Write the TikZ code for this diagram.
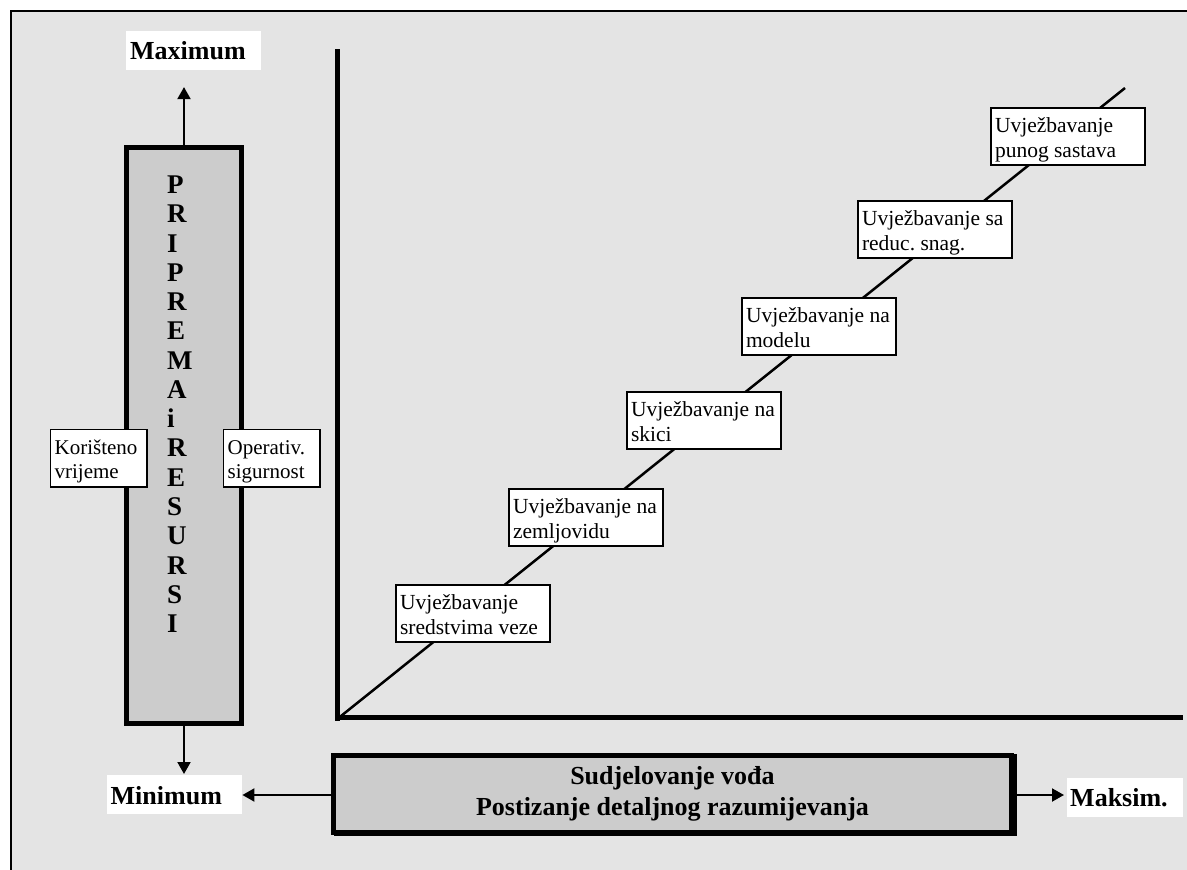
\documentclass[tikz,border=0pt]{standalone}
\usepackage{fontspec}
\setmainfont{Liberation Serif}
\usetikzlibrary{arrows.meta}

\definecolor{panelgray}{HTML}{E4E4E4}
\definecolor{boxgray}{HTML}{CCCCCC}

\begin{document}
\begin{tikzpicture}[x=1pt,y=-1pt,
  stepbox/.style={draw, line width=2pt, fill=white, anchor=north west,
    inner xsep=4pt, inner ysep=0pt, text width=146pt, align=flush left,
    text height=24pt, text depth=33pt,
    font=\fontsize{21.5}{25}\selectfont\frenchspacing},
  sidebox/.style={draw, line width=1.3pt, fill=white, anchor=north west,
    inner xsep=4.4pt, inner ysep=0pt, text width=87.9pt, align=flush left,
    text height=25.4pt, text depth=32.3pt,
    font=\fontsize{21}{24}\selectfont\frenchspacing},
  endlabel/.style={fill=white, anchor=north west, inner ysep=0pt, align=flush left,
    font=\fontsize{26}{30}\selectfont\bfseries},
  arr/.style={line width=2pt, -{Triangle[length=12pt,width=13pt]}},
  axis/.style={line width=5pt},
]
\useasboundingbox (0,0) rectangle (1187,870);

% panel
\fill[panelgray] (11,11) rectangle (1195,880);
\draw[line width=1.5pt] (11,880) -- (11,11) -- (1195,11);

% end labels
\node[endlabel, inner xsep=4pt, text width=127pt, text height=28.3pt, text depth=10.4pt]
  (maxl) at (126,31) {Maximum};
\node[endlabel, inner xsep=3.5pt, text width=128pt, text height=29pt, text depth=10pt]
  (minl) at (107,775) {Minimum};
\node[endlabel, inner xsep=3pt, text width=110pt, text height=28.4pt, text depth=10pt]
  (maks) at (1067,778) {Maksim.};

% resources column
\node[draw, line width=5pt, fill=boxgray, anchor=north, inner ysep=0pt,
  inner xsep=40.5pt, text width=34pt, align=flush left,
  text height=46.5pt, text depth=529.5pt,
  font=\fontsize{27}{29.27}\selectfont\bfseries]
  (tall) at (184,144.5)
  {P\\R\\I\\P\\R\\E\\M\\A\\i\\R\\E\\S\\U\\R\\S\\I};

\node[sidebox] (vrijeme) at (49.6,428.6) {Korišteno\\vrijeme};
\node[sidebox] (sigur) at (222.6,428.6) {Operativ.\\sigurnost};

\draw[arr, shorten >=17pt] (tall.north) -- (tall.north |- maxl.south);
\draw[arr, shorten >=1pt] (tall.south) -- (tall.south |- minl.north);

% axes
\coordinate (ytop) at (337.5,49);
\coordinate (ybot) at (337.5,721);
\coordinate (xleft) at (335,717);
\coordinate (xright) at (1183,717);
\draw[axis] (ytop) -- (ybot);
\draw[axis] (xleft) -- (xright);

% rising line
\coordinate (dstart) at (341,716);
\coordinate (dend) at (1125,88);
\draw[line width=2.5pt] (dstart) -- (dend);

% training steps
\node[stepbox] (s1) at (395,584) {Uvježbavanje\\sredstvima veze};
\node[stepbox] (s2) at (508,488) {Uvježbavanje na\\zemljovidu};
\node[stepbox] (s3) at (626,391) {Uvježbavanje na\\skici};
\node[stepbox] (s4) at (741,297) {Uvježbavanje na\\modelu};
\node[stepbox] (s5) at (857,200) {Uvježbavanje sa\\reduc. snag.};
\node[stepbox] (s6) at (990,107) {Uvježbavanje\\punog sastava};

% leaders' participation box with its shadow
\fill[black] (334,754) rectangle (1017,836);
\node[draw, line width=5pt, fill=boxgray, anchor=north, inner ysep=0pt,
  inner xsep=4pt, text width=670pt, align=flush center,
  text height=29.5pt, text depth=47.5pt,
  font=\fontsize{26}{31}\selectfont\bfseries]
  (bb) at (672.5,752.5)
  {Sudjelovanje vođa\\Postizanje detaljnog razumijevanja};

\coordinate (ay) at (0,795);
\draw[arr] (bb.west |- ay) -- (minl.east |- ay);
\draw[arr, shorten >=3pt] (bb.east |- ay) -- (maks.west |- ay);
\end{tikzpicture}
\end{document}
